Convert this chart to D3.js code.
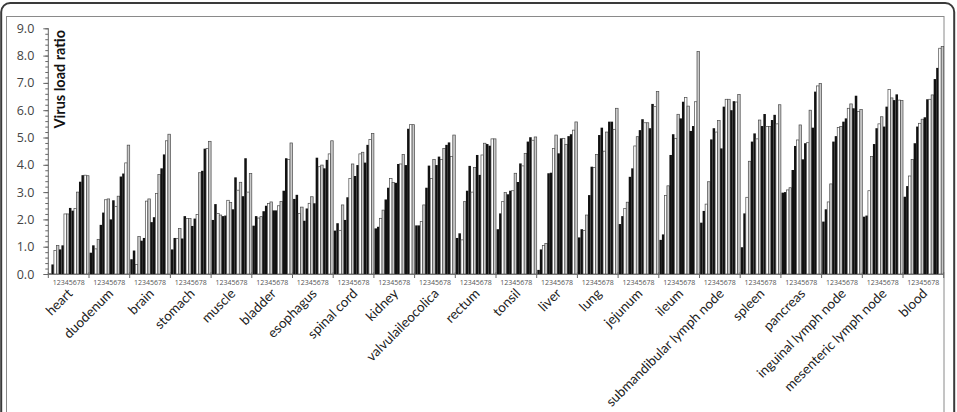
<!DOCTYPE html>
<html>
<head>
<meta charset="utf-8">
<script src="https://cdn.jsdelivr.net/npm/d3@7"></script>
<style>
  html, body { margin: 0; padding: 0; background: #fff; }
  svg { display: block; }
</style>
</head>
<body>
<svg id="chart" width="957" height="412"></svg>
<script>
// ---- DATA ----
const tissues = ["heart","duodenum","brain","stomach","muscle","bladder","esophagus","spinal cord","kidney","valvulaileocolica","rectum","tonsil","liver","lung","jejunum","ileum","submandibular lymph node","spleen","pancreas","inguinal lymph node","mesenteric lymph node","blood"];
const dayLabels = ["1","2","3","4","5","6","7","8"];
const yTicks = [0,1,2,3,4,5,6,7,8,9];

// two samples per day, days 1..8 (16 values per tissue)
const heart        = [0.02,0.35,0.86,1.04,0.90,1.05,2.20,2.20,2.42,2.32,2.40,3.00,3.38,3.62,3.62,3.60];
const duodenum     = [0.78,1.05,0.92,1.27,1.80,2.25,2.72,2.75,2.00,2.70,2.48,2.85,3.57,3.68,4.07,4.72];
const brain        = [0.54,0.86,0.35,1.37,1.22,1.32,2.67,2.75,1.90,2.08,2.95,3.64,3.87,4.38,4.88,5.12];
const stomach      = [0.90,1.32,1.30,1.67,1.30,2.12,2.03,2.03,1.76,2.03,2.18,3.71,3.78,4.59,4.60,4.86];
const muscle       = [1.98,2.56,2.22,2.16,2.12,2.14,2.70,2.62,2.37,3.54,3.07,3.36,2.85,4.24,3.00,3.68];
const bladder      = [1.77,2.12,2.05,2.10,2.30,2.50,2.58,2.64,2.33,2.33,2.50,2.66,3.05,4.24,4.20,4.80];
const esophagus    = [2.75,2.90,2.22,2.45,1.95,2.40,2.59,2.83,2.59,4.26,3.93,3.99,3.87,4.18,4.40,4.88];
const spinalCord   = [1.59,1.86,1.60,2.53,1.98,2.81,3.50,4.03,3.59,3.99,4.40,4.46,4.08,4.73,4.93,5.15];
const kidney       = [1.67,1.73,2.04,2.34,2.73,3.16,3.50,3.35,3.34,4.03,4.03,4.38,3.99,5.32,5.47,5.47];
const valvula      = [1.78,1.78,1.92,2.53,3.16,3.97,3.50,4.20,3.99,4.30,4.20,4.60,4.73,4.82,4.30,5.09];
const rectum       = [1.32,1.49,1.25,2.65,3.05,3.96,3.00,3.90,4.36,3.63,4.36,4.79,4.76,4.70,4.95,4.95];
const tonsil       = [1.64,2.22,2.65,2.98,2.92,3.05,3.05,3.69,3.37,4.05,3.96,4.42,4.85,5.01,4.90,5.02];
const liver        = [0.15,0.90,1.04,1.12,3.69,3.71,4.60,5.09,4.42,4.97,4.97,4.75,5.05,5.12,5.27,5.57];
const lung         = [1.34,1.64,1.60,2.16,2.89,3.93,3.90,4.38,5.09,5.36,4.50,5.20,5.58,5.58,5.30,6.07];
const jejunum      = [1.83,2.12,2.40,2.63,3.56,3.87,4.69,5.03,5.27,5.67,5.54,5.54,5.34,6.23,6.13,6.68];
const ileum        = [1.25,1.45,2.88,3.23,4.36,5.12,4.97,5.85,5.70,6.31,6.47,6.15,5.24,5.42,6.31,8.15];
const submandibular= [1.88,2.31,2.56,3.38,4.93,5.34,5.20,5.62,4.60,6.13,6.40,6.40,6.00,6.33,6.30,6.58];
const spleen       = [0.98,2.22,2.81,4.13,4.85,5.15,4.95,5.64,5.42,5.86,5.40,5.40,5.64,5.83,5.50,6.20];
const pancreas     = [2.98,3.00,3.08,3.16,3.81,4.69,4.91,5.46,4.20,4.79,4.81,6.00,5.36,6.68,6.89,6.98];
const inguinal     = [1.92,2.37,2.64,3.30,4.85,5.05,5.37,5.40,5.58,5.70,6.07,6.23,6.07,6.53,5.95,6.03];
const mesenteric   = [2.10,2.14,3.05,4.30,4.76,5.34,5.50,5.76,5.40,6.13,6.76,6.45,6.37,6.58,6.37,6.35];
const blood        = [2.83,3.22,3.59,4.20,4.79,5.40,5.52,5.67,5.74,6.40,6.40,6.56,7.14,7.55,8.27,8.33];

const tissueValues = [heart,duodenum,brain,stomach,muscle,bladder,esophagus,spinalCord,kidney,valvula,rectum,tonsil,liver,lung,jejunum,ileum,submandibular,spleen,pancreas,inguinal,mesenteric,blood];

// ---- LAYOUT ----
const svg = d3.select("#chart");
const plotL = 48.3, plotR = 943.7, plotT = 28.3, plotB = 274;

// frames
svg.append("rect").attr("x", 1.2).attr("y", 3).attr("width", 953).attr("height", 440)
  .attr("rx", 9).attr("fill", "none").attr("stroke", "#3a3a3a").attr("stroke-width", 2);
svg.append("rect").attr("x", 6.5).attr("y", 16.5).attr("width", 937.5).attr("height", 440)
  .attr("fill", "none").attr("stroke", "#8a8a8a").attr("stroke-width", 1);

const y = d3.scaleLinear().domain([0, 9]).range([plotB, plotT]);
const x0 = d3.scaleBand().domain(tissues).range([plotL, plotR]).padding(0);
const x1 = d3.scaleBand().domain(d3.range(16)).range([0.6, x0.bandwidth()]).padding(0);

const fillFor = i => {
  const day = Math.floor(i / 2);
  if (day % 2 === 0) return "#111";
  return (i % 2 === 0) ? "#ffffff" : "#c9c9c9";
};

const g = svg.append("g");
tissues.forEach((t, ti) => {
  const vals = tissueValues[ti];
  g.append("g").attr("transform", `translate(${x0(t)},0)`)
    .selectAll("rect").data(vals).join("rect")
    .attr("x", (d, i) => x1(i))
    .attr("y", d => y(d))
    .attr("width", x1.bandwidth())
    .attr("height", d => y(0) - y(d))
    .attr("fill", (d, i) => fillFor(i))
    .attr("stroke", (d, i) => Math.floor(i / 2) % 2 === 0 ? "none" : "#4a4a4a")
    .attr("stroke-width", 0.7);
});

// y axis: minor ticks
const yMinor = d3.axisLeft(y).tickValues(d3.range(0, 9.01, 0.2)).tickSize(3).tickFormat("");
svg.append("g").attr("transform", `translate(${plotL},0)`).call(yMinor)
  .call(s => s.select(".domain").remove())
  .call(s => s.selectAll("line").attr("stroke", "#666"));
const yMajor = d3.axisLeft(y).tickValues(yTicks).tickSize(5).tickPadding(9).tickFormat(d3.format(".1f"));
svg.append("g").attr("transform", `translate(${plotL},0)`).call(yMajor)
  .call(s => s.select(".domain").attr("stroke", "#666").attr("d", `M0,${plotT}V${plotB}`))
  .call(s => s.selectAll("line").attr("stroke", "#666"))
  .call(s => s.selectAll("text").attr("font-family", "Open Sans").attr("font-size", 12.5).attr("fill", "#444"));

// y title
svg.append("text").attr("transform", `translate(65,30) rotate(-90)`)
  .attr("text-anchor", "end").attr("font-family", "Lato").attr("font-weight", "bold")
  .attr("font-size", 14.5).attr("fill", "#111").text("Virus load ratio");

// x axis baseline + group boundary ticks
svg.append("line").attr("x1", plotL).attr("x2", plotR).attr("y1", plotB + 0.5).attr("y2", plotB + 0.5)
  .attr("stroke", "#777");
const bounds = tissues.map(t => x0(t)).concat([plotR]);
svg.append("g").selectAll("line").data(bounds).join("line")
  .attr("x1", d => d).attr("x2", d => d).attr("y1", plotB - 2).attr("y2", plotB + 4)
  .attr("stroke", "#666");

// day labels
svg.append("g").selectAll("text").data(tissues).join("text")
  .attr("x", d => x0(d) + x0.bandwidth() / 2).attr("y", 284.5)
  .attr("text-anchor", "middle").attr("font-family", "Open Sans").attr("font-size", 7)
  .attr("fill", "#555").text(dayLabels.join(""));

// tissue labels
svg.append("g").selectAll("text").data(tissues).join("text")
  .attr("transform", d => `translate(${x0(d) + x0.bandwidth() / 2 + 1.5},${291}) rotate(-45)`)
  .attr("text-anchor", "end").attr("dy", "0.35em")
  .attr("font-family", "Lato").attr("font-size", 13.5).attr("fill", "#222").text(d => d);
</script>
</body>
</html>
